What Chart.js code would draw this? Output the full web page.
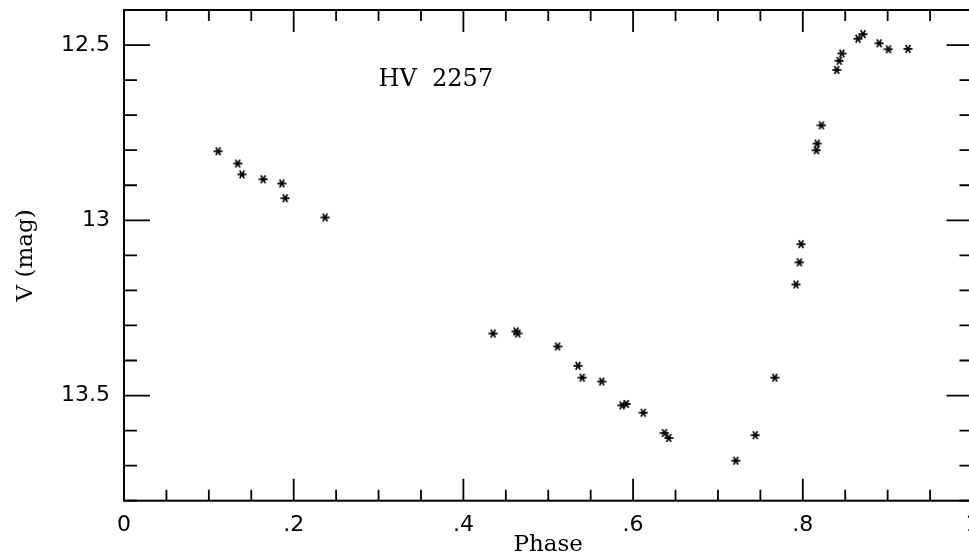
<!DOCTYPE html>
<html>
<head>
<meta charset="utf-8">
<script src="https://cdn.jsdelivr.net/npm/chart.js@4/dist/chart.umd.min.js"></script>
<style>
  html, body { margin: 0; padding: 0; background: #fff; overflow: hidden; }
  #wrap { width: 969px; height: 559px; overflow: hidden; }
</style>
</head>
<body>
<div id="wrap"><canvas id="lc" width="990" height="559"></canvas></div>
<script>
// ============================================================
// DATA
// ============================================================
const phase = [0.111, 0.134, 0.139, 0.164, 0.186, 0.190, 0.237,
               0.435, 0.462, 0.464, 0.511, 0.535, 0.540, 0.563, 0.587, 0.592, 0.612,
               0.637, 0.642, 0.721, 0.744, 0.767, 0.792, 0.796, 0.798,
               0.816, 0.817, 0.822, 0.840, 0.843, 0.846, 0.865, 0.871, 0.890, 0.901, 0.924];
const vmag  = [12.803, 12.838, 12.869, 12.883, 12.895, 12.937, 12.992,
               13.323, 13.317, 13.323, 13.360, 13.415, 13.449, 13.460, 13.528, 13.524, 13.549,
               13.607, 13.621, 13.686, 13.613, 13.449, 13.183, 13.120, 13.068,
               12.800, 12.781, 12.729, 12.571, 12.545, 12.524, 12.482, 12.469, 12.495, 12.512, 12.511];

const xTickValues = [0, 0.2, 0.4, 0.6, 0.8, 1.0];
const xTickLabels = ['0', '.2', '.4', '.6', '.8', '1'];
const yTickValues = [12.5, 13, 13.5];
const yTickLabels = ['12.5', '13', '13.5'];

const starLabel = 'HV  2257';

// ============================================================
// HELPERS
// ============================================================
function labelFor(v, vals, labels) {
    const i = vals.findIndex(t => Math.abs(t - v) < 1e-6);
    return i >= 0 ? labels[i] : '';
}

// six-spoke asterisk used as the point marker
function makeAsterisk(size, lw) {
    const c = document.createElement('canvas');
    c.width = c.height = size;
    const g = c.getContext('2d');
    g.strokeStyle = '#000';
    g.lineWidth = lw;
    const m = size / 2, r = size / 2 - 0.5;
    [0, 60, 120].forEach(a => {
        const rad = a * Math.PI / 180;
        g.beginPath();
        g.moveTo(m - r * Math.cos(rad), m - r * Math.sin(rad));
        g.lineTo(m + r * Math.cos(rad), m + r * Math.sin(rad));
        g.stroke();
    });
    return c;
}

// frame + inward ticks on all four sides + the star name
const framePlugin = {
    id: 'frame',
    afterDraw(chart) {
        const { ctx, chartArea: a, scales: { x, y } } = chart;
        ctx.save();
        ctx.strokeStyle = '#000';
        ctx.lineWidth = 2;
        ctx.strokeRect(a.left, a.top, a.right - a.left, a.bottom - a.top);

        ctx.lineWidth = 1.8;
        ctx.beginPath();
        x.ticks.forEach(t => {
            const px = x.getPixelForValue(t.value);
            const major = labelFor(t.value, xTickValues, xTickLabels) !== '';
            const len = major ? 22 : 11;
            ctx.moveTo(px, a.bottom); ctx.lineTo(px, a.bottom - len);
            ctx.moveTo(px, a.top); ctx.lineTo(px, a.top + len);
        });
        y.ticks.forEach(t => {
            const py = y.getPixelForValue(t.value);
            const major = labelFor(t.value, yTickValues, yTickLabels) !== '';
            const len = major ? 26 : 13;
            ctx.moveTo(a.left, py); ctx.lineTo(a.left + len, py);
            ctx.moveTo(a.right, py); ctx.lineTo(a.right - len, py);
        });
        ctx.stroke();

        ctx.fillStyle = '#000';
        ctx.font = '24px "DejaVu Serif"';
        ctx.textAlign = 'left';
        ctx.textBaseline = 'middle';
        ctx.fillText(starLabel, x.getPixelForValue(0.30), y.getPixelForValue(12.6));
        ctx.restore();
    }
};

// ============================================================
// CHART
// ============================================================
const pts = phase.map((p, i) => ({ x: p, y: vmag[i] }));

new Chart(document.getElementById('lc').getContext('2d'), {
    type: 'scatter',
    data: {
        datasets: [{
            data: pts,
            pointStyle: makeAsterisk(10, 1.8),
            pointRadius: 5,
            pointHoverRadius: 5
        }]
    },
    options: {
        responsive: false,
        animation: false,
        layout: { padding: { top: 10, right: 17.5, left: 0, bottom: 0 } },
        plugins: { legend: { display: false }, tooltip: { enabled: false } },
        scales: {
            x: {
                type: 'linear', min: 0, max: 1.0,
                grid: { display: false },
                border: { display: false },
                ticks: {
                    stepSize: 0.05, autoSkip: false, maxRotation: 0, padding: 3,
                    color: '#000', font: { family: 'DejaVu Sans', size: 22 },
                    callback: v => labelFor(v, xTickValues, xTickLabels)
                },
                title: {
                    display: true, text: 'Phase', color: '#000',
                    font: { family: 'DejaVu Serif', size: 23 },
                    padding: { top: 0, bottom: 0 }
                },
                afterFit: s => { s.height = 58.3; s.paddingLeft = 0; s.paddingRight = 0; }
            },
            y: {
                type: 'linear', min: 12.4, max: 13.8, reverse: true,
                grid: { display: false },
                border: { display: false },
                ticks: {
                    stepSize: 0.1, autoSkip: false, padding: 6,
                    color: '#000', font: { family: 'DejaVu Sans', size: 22 },
                    callback: v => labelFor(v, yTickValues, yTickLabels)
                },
                title: {
                    display: true, text: 'V (mag)', color: '#000',
                    font: { family: 'DejaVu Serif', size: 23 },
                    padding: { top: 12, bottom: 0 }
                },
                afterFit: s => { s.width = 124; s.paddingTop = 0; s.paddingBottom = 0; }
            }
        }
    },
    plugins: [framePlugin]
});
</script>
</body>
</html>
